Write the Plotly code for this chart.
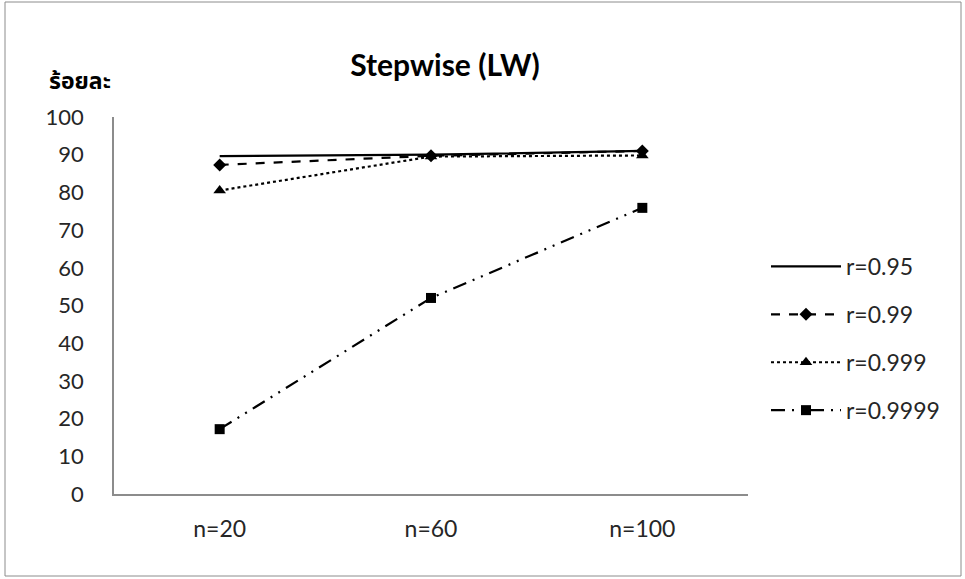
import plotly.graph_objects as go

# Sample sizes on the x axis
categories = ["n=20", "n=60", "n=100"]

# Percentage of correct selections for each correlation level
r095 = [89.6, 90.0, 91.0]
r099 = [87.3, 89.7, 91.0]
r0999 = [80.5, 89.5, 89.8]
r09999 = [17.2, 52.0, 75.9]

series_names = ["r=0.95", "r=0.99", "r=0.999", "r=0.9999"]
y_ticks = [0, 10, 20, 30, 40, 50, 60, 70, 80, 90, 100]

W, H = 965, 579
L, R, T, B = 114, 217, 117, 85
FONT = "Lato, 'Noto Sans', 'Noto Sans Thai', sans-serif"
TXT = "#262626"

styles = [
    dict(dash="solid", symbol=None, size=0),
    dict(dash="dash", symbol="diamond", size=10),
    dict(dash="dot", symbol="triangle-up", size=11),
    dict(dash="14px,7px,2px,7px,2px,7px", symbol="square", size=10),
]

fig = go.Figure()
for name, vals, st in zip(series_names, [r095, r099, r0999, r09999], styles):
    fig.add_trace(go.Scatter(
        x=categories, y=vals, name=name, legendgroup=name,
        mode="lines+markers" if st["symbol"] else "lines",
        line=dict(color="black", width=2.2, dash=st["dash"]),
        marker=dict(symbol=st["symbol"] or "circle", size=st["size"], color="black"),
    ))

# thin grey frame around the whole chart area
pw, ph = W - L - R, H - T - B
fig.add_shape(type="rect", xref="paper", yref="paper",
              x0=(5 - L) / pw, x1=(961 - L) / pw,
              y0=(H - B - 576) / ph, y1=(H - B - 2) / ph,
              line=dict(color="#8c8c8c", width=1), layer="below")

fig.add_annotation(text="<b>ร้อยละ</b>", xref="paper", yref="paper",
                   x=(47 - L) / pw, y=(H - B - 80) / ph, xanchor="left", yanchor="middle",
                   showarrow=False, font=dict(size=23, color="black", family=FONT))

fig.update_layout(
    width=W, height=H,
    margin=dict(l=L, r=R, t=T, b=B),
    paper_bgcolor="white", plot_bgcolor="white",
    font=dict(family=FONT, size=22, color=TXT),
    title=dict(text="<b>Stepwise (LW)</b>", x=445 / W, xanchor="center",
               y=1 - 65 / H, yanchor="middle",
               font=dict(size=30, color="black", family=FONT)),
    showlegend=True,
    legend=dict(x=(766 - L) / pw, xanchor="left", y=(H - B - 245) / ph, yanchor="top",
                tracegroupgap=15, font=dict(size=23, color=TXT, family=FONT),
                bgcolor="rgba(0,0,0,0)", itemwidth=70),
    xaxis=dict(type="category", range=[-0.5, 2.5], showline=True, linecolor="#8c8c8c",
               linewidth=1.5, showgrid=False, ticks="", ticklabelstandoff=14, zeroline=False,
               tickfont=dict(size=23)),
    yaxis=dict(range=[0, 100], tickvals=y_ticks, showline=True, linecolor="#8c8c8c",
               linewidth=1.5, showgrid=False, ticks="", ticklabelstandoff=24, zeroline=False,
               tickfont=dict(size=22)),
)

fig.write_html("out.html")
